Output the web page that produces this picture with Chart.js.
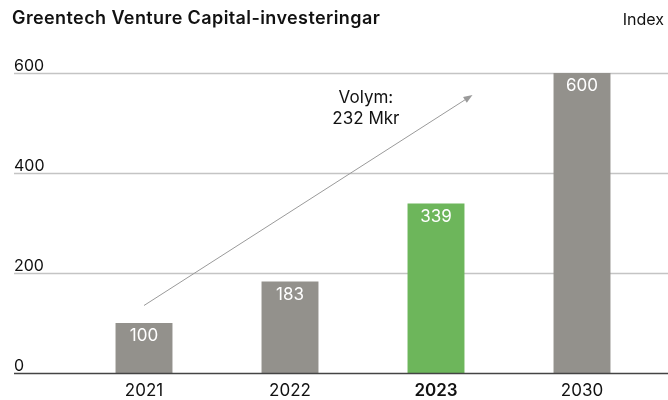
<!DOCTYPE html>
<html>
<head>
<meta charset="utf-8">
<script src="https://cdn.jsdelivr.net/npm/chart.js@4"></script>
<style>
  html, body { margin: 0; padding: 0; background: #fff; }
  #wrap { width: 668px; height: 400px; position: relative; }
</style>
</head>
<body>
<div id="wrap"><canvas id="c"></canvas></div>
<script>
// Greentech VC investments, indexed (2021 = 100)
const years = ['2021', '2022', '2023', '2030'];
const indexValues = [100, 183, 339, 600];
const barColors = ['#93918c', '#93918c', '#6db65b', '#93918c'];
const yTicks = [0, 200, 400, 600];
const highlightYear = '2023';

// Trend arrow, anchored in axis units (category index, index value)
const arrowFrom = [0, 135];
const arrowTo = [2.25, 556];
const volumeText = ['Volym:', '232 Mkr'];

const FONT = 'Inter, "Open Sans", sans-serif';

const decor = {
  id: 'decor',
  beforeDatasetsDraw(chart) {
    const { ctx, chartArea, scales, width } = chart;
    const y = scales.y;
    const left = 14;
    ctx.save();
    // horizontal grid with labels sitting on the lines
    yTicks.forEach(v => {
      const py = Math.round(y.getPixelForValue(v)) + 0.5;
      if (v !== 0) {
        ctx.strokeStyle = '#c4c4c4';
        ctx.lineWidth = 1.5;
        ctx.beginPath();
        ctx.moveTo(left, py);
        ctx.lineTo(width, py);
        ctx.stroke();
      }
      ctx.fillStyle = '#111';
      ctx.font = '16px ' + FONT;
      ctx.textAlign = 'left';
      ctx.textBaseline = 'alphabetic';
      ctx.fillText(String(v), left, py - 3);
    });
    // title and unit
    ctx.fillStyle = '#111';
    ctx.font = '600 18px ' + FONT;
    ctx.letterSpacing = '0.4px';
    ctx.textAlign = 'left';
    ctx.textBaseline = 'middle';
    ctx.fillText('Greentech Venture Capital-investeringar', 12, 19);
    ctx.letterSpacing = '0px';
    ctx.font = '16px ' + FONT;
    ctx.textAlign = 'right';
    ctx.fillText('Index', 664, 20);
    ctx.restore();
  },
  afterDatasetsDraw(chart) {
    const { ctx, scales, width } = chart;
    const x = scales.x, y = scales.y;
    ctx.save();
    // baseline
    const by = Math.round(y.getPixelForValue(0)) + 0.5;
    ctx.strokeStyle = '#444';
    ctx.lineWidth = 1.5;
    ctx.beginPath();
    ctx.moveTo(14, by);
    ctx.lineTo(width, by);
    ctx.stroke();

    // values inside the bars
    const meta = chart.getDatasetMeta(0);
    ctx.fillStyle = '#fff';
    ctx.font = '17px ' + FONT;
    ctx.textAlign = 'center';
    ctx.textBaseline = 'middle';
    meta.data.forEach((bar, i) => {
      ctx.fillText(String(indexValues[i]), bar.x, bar.y + 13);
    });

    // trend arrow
    const x0 = x.getPixelForValue(arrowFrom[0]), y0 = y.getPixelForValue(arrowFrom[1]);
    const x1 = x.getPixelForValue(arrowTo[0]), y1 = y.getPixelForValue(arrowTo[1]);
    const ang = Math.atan2(y1 - y0, x1 - x0);
    ctx.strokeStyle = '#9a9a9a';
    ctx.fillStyle = '#9a9a9a';
    ctx.lineWidth = 1;
    ctx.beginPath();
    ctx.moveTo(x0, y0);
    ctx.lineTo(x1 - 6 * Math.cos(ang), y1 - 6 * Math.sin(ang));
    ctx.stroke();
    ctx.beginPath();
    ctx.moveTo(x1, y1);
    ctx.lineTo(x1 - 9 * Math.cos(ang) + 3.5 * Math.sin(ang), y1 - 9 * Math.sin(ang) - 3.5 * Math.cos(ang));
    ctx.lineTo(x1 - 9 * Math.cos(ang) - 3.5 * Math.sin(ang), y1 - 9 * Math.sin(ang) + 3.5 * Math.cos(ang));
    ctx.closePath();
    ctx.fill();

    // volume note
    ctx.fillStyle = '#111';
    ctx.font = '17px ' + FONT;
    ctx.textAlign = 'center';
    ctx.textBaseline = 'middle';
    const tx = x.getPixelForValue(1.52);
    const ty = y.getPixelForValue(551);
    ctx.fillText(volumeText[0], tx, ty);
    ctx.fillText(volumeText[1], tx, ty + 21);
    ctx.restore();
  }
};

new Chart(document.getElementById('c'), {
  type: 'bar',
  data: {
    labels: years,
    datasets: [{
      data: indexValues,
      backgroundColor: barColors,
      borderWidth: 0,
      barPercentage: 0.39,
      categoryPercentage: 1.0
    }]
  },
  options: {
    responsive: true,
    maintainAspectRatio: false,
    animation: false,
    layout: { padding: { left: 71, right: 13, top: 73, bottom: 0 } },
    plugins: { legend: { display: false }, tooltip: { enabled: false }, title: { display: false } },
    scales: {
      y: {
        display: false,
        min: 0,
        max: 600
      },
      x: {
        grid: { display: false, drawTicks: false },
        border: { display: false },
        afterFit: s => { s.height = 27; },
        ticks: {
          color: '#111',
          padding: 8,
          font: ctx => ({
            family: FONT,
            size: 17,
            weight: years[ctx.index] === highlightYear ? '600' : 'normal'
          })
        }
      }
    }
  },
  plugins: [decor]
});
</script>
</body>
</html>
